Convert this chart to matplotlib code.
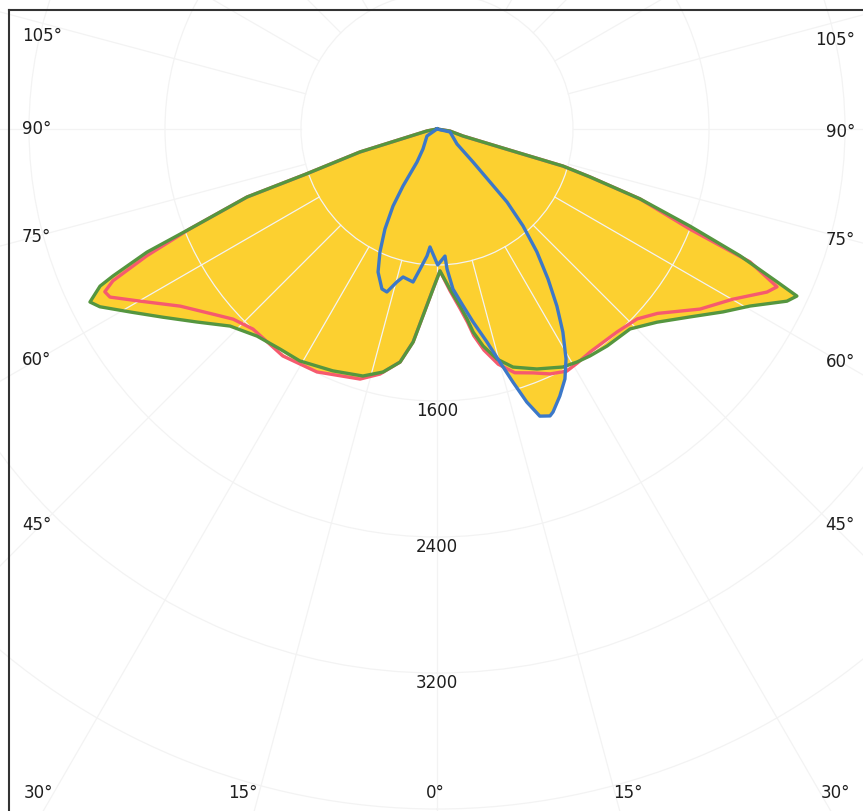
import numpy as np
import matplotlib.pyplot as plt
from matplotlib.lines import Line2D

# luminous intensity (cd) vs angle (deg, negative = left side)
green_ang = [-90, -79, -73.4, -71.0, -70.3, -68.0, -67.0, -65.6, -65.0, -63.5,
             -62.2, -59.2, -55.5, -51.2, -46.4, -41.0, -35.5, -30.6, -23.3, -16.7,
             -12.5, -9.0, -6.4, -4.3, -1.4, 1.2, 4.6, 7.4, 9.0, 10.1,
             12.0, 14.6, 17.7, 22.6, 27.9, 31.0, 34.0, 38.1, 44.0, 48.7,
             53.4, 57.4, 60.5, 63.8, 65.1, 65.8, 67.3, 69.0, 71.0, 72.6,
             73.6, 73.8, 74.9, 81, 90]
green_cd = [0, 60, 473, 820, 1187, 1568, 1853, 2093, 2187, 2281,
            2242, 2102, 1955, 1812, 1681, 1614, 1590, 1585, 1549, 1517,
            1464, 1388, 1261, 1103, 941, 835, 944, 1050, 1132, 1213,
            1305, 1398, 1470, 1529, 1584, 1599, 1610, 1622, 1635, 1722,
            1854, 1997, 2115, 2294, 2334, 2193, 1932, 1594, 1263, 943,
            773, 450, 158, 77, 0]

red_ang = [-90, -79, -73.4, -71.0, -70.3, -68.0, -66.4, -64.9, -63.9, -62.8,
           -59.9, -55.4, -50.4, -47.0, -42.6, -34.2, -26.3, -17.1, -13.1, -9.0,
           -6.4, -4.3, -1.4, 1.2, 4.6, 7.4, 9.0, 10.1, 12.0, 14.6,
           17.7, 21.5, 24.8, 28.2, 31.0, 34.5, 41.6, 46.5, 50.1, 55.6,
           60.1, 63.7, 65.1, 67.0, 68.4, 71.0, 72.6, 73.6, 73.8, 74.9,
           81, 90]
red_cd = [0, 60, 473, 820, 1187, 1568, 1862, 2105, 2176, 2163,
          2019, 1835, 1709, 1640, 1599, 1614, 1594, 1539, 1480, 1388,
          1261, 1103, 941, 835, 955, 1068, 1152, 1235, 1330, 1430,
          1505, 1542, 1587, 1616, 1605, 1591, 1596, 1623, 1691, 1875,
          2008, 2165, 2205, 2000, 1600, 1263, 943, 773, 450, 158,
          77, 0]

blue_ang = [-90, -55, -35, -31.2, -30.8, -29.7, -27.5, -24.9, -22.4, -19.0,
            -17.1, -14.7, -12.9, -8.9, -6.9, -4.5, -3.4, 0.3, 3.6, 4.1,
            5.7, 8.4, 10.6, 13.2, 15.1, 16.7, 18.2, 19.7, 21.5, 22.3,
            24.7, 27.1, 29.3, 31.8, 34.1, 36.5, 39.1, 41.6, 43.8, 45.0,
            47.5, 53.1, 77, 90]
blue_cd = [0, 72, 144, 227, 390, 522, 663, 797, 910, 995,
           1003, 930, 893, 911, 830, 749, 695, 800, 749, 826,
           946, 1052, 1155, 1287, 1420, 1554, 1691, 1794, 1814, 1799,
           1729, 1652, 1551, 1405, 1258, 1098, 932, 762, 595, 441,
           287, 147, 79, 0]

ring_values = [800, 1600, 2400, 3200, 4000, 4800]
ring_labels = [1600, 2400, 3200]

W, H = 863, 812
fig = plt.figure(figsize=(W / 100, H / 100), dpi=100)
fig.patch.set_facecolor('white')

# polar axes bigger than the figure, centre near the top
cx, cy = 437, 130
rmax = 5000
rad = rmax * 136 / 800
ax = fig.add_axes([(cx - rad) / W, (H - cy - rad) / H, 2 * rad / W, 2 * rad / H],
                  projection='polar')
ax.set_theta_zero_location('S')
ax.set_theta_direction(1)
ax.set_ylim(0, rmax)
ax.set_xticks([])
ax.set_yticks(ring_values)
ax.set_yticklabels([])
grid_c = '#f3f3f3'
ax.yaxis.grid(True, color=grid_c, lw=0.9)
ax.set_axisbelow('line')
ax.spines['polar'].set_visible(False)

for a in range(0, 360, 15):
    ax.plot([np.radians(a)] * 2, [800, rmax], color=grid_c, lw=0.9, zorder=1.5)

yellow = '#fcd030'
for ang, cd in [(green_ang, green_cd), (red_ang, red_cd), (blue_ang, blue_cd)]:
    ax.fill(np.radians(ang), cd, color=yellow, lw=0, zorder=1)

ax.plot(np.radians(red_ang), red_cd, color='#f65a6e', lw=2.4, zorder=2)
ax.plot(np.radians(green_ang), green_cd, color='#55963f', lw=2.4, zorder=2.1)
ax.plot(np.radians(blue_ang), blue_cd, color='#3c78c8', lw=2.4, zorder=2.2)

txt_c = '#1e1e1e'
for v in ring_labels:
    ax.text(0, v, str(v), ha='center', va='top', fontsize=12, color=txt_c)

# angle labels along the frame edges (pixel positions)
left_lbls = [('105°', 36), ('90°', 129), ('75°', 237), ('60°', 360), ('45°', 525)]
right_lbls = [('105°', 40), ('90°', 132), ('75°', 240), ('60°', 362), ('45°', 525)]
bottom_lbls = [('30°', 38), ('15°', 243), ('0°', 435), ('15°', 628), ('30°', 835)]
for s, y in left_lbls:
    fig.text(22 / W, 1 - y / H, s, ha='left', va='center', fontsize=12, color=txt_c)
for s, y in right_lbls:
    fig.text(855 / W, 1 - y / H, s, ha='right', va='center', fontsize=12, color=txt_c)
for s, x in bottom_lbls:
    fig.text(x / W, 1 - 793 / H, s, ha='center', va='center', fontsize=12, color=txt_c)

# frame
fig.add_artist(Line2D([9 / W, 9 / W], [0, 1 - 11 / H], color='#333333', lw=1.5))
fig.add_artist(Line2D([9 / W, 1], [1 - 11 / H, 1 - 11 / H], color='#333333', lw=1.5))

fig.savefig('out.png', dpi=100)
